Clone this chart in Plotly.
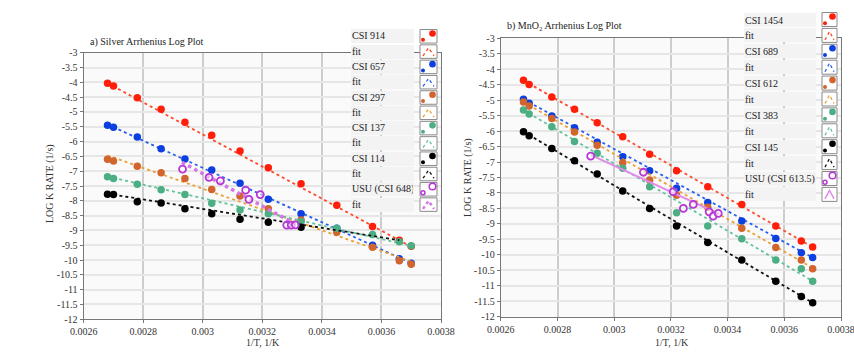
import plotly.graph_objects as go

# ---------------- data ----------------
X_T = [0.00268, 0.00270, 0.00278, 0.00286, 0.00294, 0.00303, 0.003125,
       0.00322, 0.00333, 0.00345, 0.00357, 0.00366, 0.00370]
X_FIT = [0.00268, 0.00370]

# a) Silver
AG_914 = [-4.03, -4.12, -4.52, -4.91, -5.35, -5.79, -6.32, -6.88, -7.42, -8.15, -8.87, -9.33, -9.53]
AG_657 = [-5.45, -5.52, -5.85, -6.24, -6.59, -6.96, -7.41, -7.95, -8.44, -8.93, -9.50, -9.96, -10.11]
AG_297 = [-6.60, -6.66, -6.83, -7.05, -7.25, -7.62, -7.84, -8.27, -8.65, -9.06, -9.57, -10.02, -10.14]
AG_137 = [-7.19, -7.25, -7.44, -7.63, -7.79, -8.08, -8.31, -8.44, -8.71, -8.93, -9.14, -9.38, -9.52]
AG_114 = [-7.78, -7.79, -8.03, -8.07, -8.27, -8.44, -8.62, -8.72, -8.89]
AG_FIT_914 = [-4.03, -9.55]
AG_FIT_657 = [-5.42, -10.10]
AG_FIT_297 = [-6.47, -10.05]
AG_FIT_137 = [-7.18, -9.52]
AG_FIT_114_X = [0.00268, 0.00366]
AG_FIT_114 = [-7.76, -9.33]
AG_USU_X = [0.002932, 0.003021, 0.003059, 0.003144, 0.003155, 0.003193, 0.003282, 0.003297, 0.003311]
AG_USU = [-6.93, -7.21, -7.33, -7.64, -7.95, -7.79, -8.82, -8.82, -8.81]
AG_USU_FIT_X = [0.00293, 0.00331]
AG_USU_FIT = [-6.70, -8.78]

# b) MnO2
MN_1454 = [-4.36, -4.49, -4.90, -5.29, -5.73, -6.18, -6.75, -7.28, -7.80, -8.37, -9.07, -9.55, -9.75]
MN_689 = [-4.97, -5.10, -5.51, -5.89, -6.36, -6.83, -7.28, -7.85, -8.31, -8.91, -9.47, -9.93, -10.09]
MN_612 = [-5.06, -5.19, -5.59, -6.03, -6.46, -7.02, -7.58, -8.07, -8.46, -9.14, -9.76, -10.17, -10.45]
MN_383 = [-5.32, -5.45, -5.86, -6.34, -6.72, -7.20, -7.80, -8.64, -9.07, -9.48, -10.17, -10.45, -10.85]
MN_145 = [-6.02, -6.15, -6.56, -6.96, -7.39, -7.94, -8.50, -9.07, -9.60, -10.17, -10.85, -11.35, -11.55]
MN_FIT_1454 = [-4.36, -9.75]
MN_FIT_689 = [-4.97, -10.09]
MN_FIT_612 = [-5.06, -10.42]
MN_FIT_383 = [-5.32, -10.85]
MN_FIT_145 = [-6.02, -11.55]
MN_USU_X = [0.002917, 0.003103, 0.003208, 0.003244, 0.003279, 0.003335, 0.003349, 0.003367]
MN_USU = [-6.81, -7.33, -7.96, -8.50, -8.37, -8.61, -8.75, -8.66]
MN_USU_FIT_X = [0.002917, 0.00337]
MN_USU_FIT = [-6.77, -8.68]

X_TICKS = [0.0026, 0.0028, 0.0030, 0.0032, 0.0034, 0.0036, 0.0038]
X_TICK_TEXT = ["0.0026", "0.0028", "0.003", "0.0032", "0.0034", "0.0036", "0.0038"]
Y_TICKS = [-3, -3.5, -4, -4.5, -5, -5.5, -6, -6.5, -7, -7.5, -8, -8.5, -9, -9.5,
           -10, -10.5, -11, -11.5, -12]
Y_TICK_TEXT = ["-3", "-3.5", "-4", "-4.5", "-5", "-5.5", "-6", "-6.5", "-7", "-7.5", "-8",
               "-8.5", "-9", "-9.5", "-10", "-10.5", "-11", "-11.5", "-12"]

AG_LABELS = ["CSI 914", "CSI 657", "CSI 297", "CSI 137", "CSI 114", "USU (CSI 648)"]
MN_LABELS = ["CSI 1454", "CSI 689", "CSI 612", "CSI 383", "CSI 145", "USU (CSI 613.5)"]

# ---------------- styles ----------------
W, H = 854, 352
FONT = "Liberation Serif"
FS = 10
MARK_COL = ["#ff1e0a", "#0c3fe0", "#d2642e", "#4caf84", "#000000", "#b636d6"]
FIT_COL = ["#ff4a2a", "#2a5ef0", "#eba035", "#62c29c", "#111111", "#d277e6"]
MN_USU_FIT_COL = "#e08ce8"


def px(x):
    return x / W


def py(y):
    return 1 - y / H


fig = go.Figure()


def add_series(xs, ys, name, col, ax, open_marker=False):
    fig.add_trace(go.Scatter(
        x=xs, y=ys, mode="markers", name=name, showlegend=False,
        xaxis=ax[0], yaxis=ax[1],
        marker=dict(size=7.5 if not open_marker else 7,
                    color=col if not open_marker else "rgba(255,255,255,0.5)",
                    symbol="circle",
                    line=dict(color=col, width=1.8 if open_marker else 0)),
    ))


def add_fit(xs, ys, col, ax, dash="dot", width=1.8):
    fig.add_trace(go.Scatter(
        x=xs, y=ys, mode="lines", name="fit", showlegend=False,
        xaxis=ax[0], yaxis=ax[1],
        line=dict(color=col, width=width, dash=dash),
    ))


A = ("x", "y")
B = ("x2", "y2")

ag_data = [(X_T, AG_914, X_FIT, AG_FIT_914), (X_T, AG_657, X_FIT, AG_FIT_657),
           (X_T, AG_297, X_FIT, AG_FIT_297), (X_T, AG_137, X_FIT, AG_FIT_137),
           (X_T[:len(AG_114)], AG_114, AG_FIT_114_X, AG_FIT_114)]
for i, (xs, ys, fx, fy) in enumerate(ag_data):
    add_fit(fx, fy, FIT_COL[i], A)
    add_series(xs, ys, AG_LABELS[i], MARK_COL[i], A)
add_fit(AG_USU_FIT_X, AG_USU_FIT, FIT_COL[5], A, dash="dot", width=3.5)
add_series(AG_USU_X, AG_USU, AG_LABELS[5], MARK_COL[5], A, open_marker=True)

mn_data = [(MN_1454, MN_FIT_1454), (MN_689, MN_FIT_689), (MN_612, MN_FIT_612),
           (MN_383, MN_FIT_383), (MN_145, MN_FIT_145)]
for i, (ys, fy) in enumerate(mn_data):
    add_fit(X_FIT, fy, FIT_COL[i], B)
    add_series(X_T, ys, MN_LABELS[i], MARK_COL[i], B)
add_fit(MN_USU_FIT_X, MN_USU_FIT, MN_USU_FIT_COL, B, dash="solid", width=2)
add_series(MN_USU_X, MN_USU, MN_LABELS[5], MARK_COL[5], B, open_marker=True)

# ---------------- axes ----------------
tickfont = dict(family=FONT, size=FS, color="#333333")


def xaxis(domain, anchor):
    return dict(domain=domain, anchor=anchor, range=[0.0026, 0.0038],
                tickvals=X_TICKS, ticktext=X_TICK_TEXT, tickfont=tickfont,
                showgrid=True, gridcolor="#cdcdcd", gridwidth=1.5,
                showline=True, linecolor="#777777", linewidth=1.3, mirror=True,
                ticks="outside", ticklen=3, tickcolor="#777777",
                ticklabeloverflow="allow",
                zeroline=False, fixedrange=True, automargin=False)


def yaxis(domain, anchor):
    return dict(domain=domain, anchor=anchor, range=[-12, -3],
                tickvals=Y_TICKS, ticktext=Y_TICK_TEXT, tickfont=tickfont,
                showgrid=True, gridcolor="#e6e6e6", gridwidth=1.5,
                showline=True, linecolor="#777777", linewidth=1.3, mirror=True,
                ticks="outside", ticklen=3, tickcolor="#777777",
                ticklabeloverflow="allow",
                zeroline=False, fixedrange=True, automargin=False)


LA = dict(x0=83.7, x1=441.0, ytop=52.7, ybot=319.3)
RB = dict(x0=500.8, x1=841.0, ytop=38.3, ybot=316.7)

fig.update_layout(
    width=W, height=H, autosize=False,
    margin=dict(l=0, r=0, t=0, b=0, pad=0),
    paper_bgcolor="white", plot_bgcolor="#fafafa",
    font=dict(family=FONT, size=FS, color="#333333"),
    xaxis=xaxis([px(LA["x0"]), px(LA["x1"])], "y"),
    yaxis=yaxis([py(LA["ybot"]), py(LA["ytop"])], "x"),
    xaxis2=xaxis([px(RB["x0"]), px(RB["x1"])], "y2"),
    yaxis2=yaxis([py(RB["ybot"]), py(RB["ytop"])], "x2"),
    showlegend=False,
)

annotations = []
shapes = []


def text_ann(x, y, text, xanchor="center", angle=0, color="#333333"):
    annotations.append(dict(x=px(x), y=py(y), xref="paper", yref="paper",
                            xanchor=xanchor, yanchor="middle", showarrow=False,
                            textangle=angle, text=text,
                            font=dict(family=FONT, size=FS, color=color)))


# titles
text_ann(88, 42, "a) Silver Arrhenius Log Plot", xanchor="left", color="#222222")
text_ann(505, 26, "b) MnO\u2082 Arrhenius Log Plot", xanchor="left", color="#222222")
# axis titles
text_ann(50, 184, "LOG K RATE (1/s)", angle=-90)
text_ann(468, 178, "LOG K RATE (1/s)", angle=-90)
text_ann(263, 342, "1/T, 1/K")
text_ann(671.5, 342, "1/T, 1/K")


# ---------------- custom legends ----------------
def build_legend(labels, mark_cols, fit_cols, lx0, lx1, sx0, sx1, yc0, step, h, usu_solid):
    rows = []
    for i, lab in enumerate(labels):
        last = i == len(labels) - 1
        rows.append((lab, "data", mark_cols[i], last))
        rows.append(("fit", "fit", fit_cols[i], last))
    for j, (lab, kind, col, is_usu) in enumerate(rows):
        yc = yc0 + j * step
        annotations.append(dict(
            x=px(lx0), y=py(yc), xref="paper", yref="paper", xanchor="left",
            yanchor="middle", showarrow=False, text=lab, align="left",
            width=lx1 - lx0 - 4, height=h - 2, borderpad=1,
            bgcolor="#f3f3f3", bordercolor="#ffffff", borderwidth=0,
            font=dict(family=FONT, size=FS, color="#222222")))
        shapes.append(dict(type="rect", xref="paper", yref="paper",
                           x0=px(sx0), x1=px(sx1), y0=py(yc + h / 2), y1=py(yc - h / 2),
                           line=dict(color="#8a8a8a", width=1), fillcolor="white",
                           layer="above"))
        if kind == "data":
            for (cx, cy, r) in [(sx1 - 4.5, yc - h / 2 + 4, 3.3), (sx0 + 3, yc + h / 2 - 3.2, 2.0)]:
                shapes.append(dict(type="circle", xref="paper", yref="paper",
                                   x0=px(cx - r), x1=px(cx + r), y0=py(cy + r), y1=py(cy - r),
                                   fillcolor="white" if is_usu else col,
                                   line=dict(color=col, width=1.5 if is_usu else 0),
                                   layer="above"))
        else:
            xa, xm, xb = sx0 + 3, (sx0 + sx1) / 2, sx1 - 3
            ya, ym = yc + h / 2 - 2.5, yc - h / 2 + 3
            path = "M {:.5f},{:.5f} L {:.5f},{:.5f} L {:.5f},{:.5f}".format(
                px(xa), py(ya), px(xm), py(ym), px(xb), py(ya))
            if is_usu and usu_solid:
                ln = dict(color=col, width=1.5)
            elif is_usu:
                ln = dict(color=col, width=2.5, dash="dot")
            else:
                ln = dict(color=col, width=1.3, dash="dot")
            shapes.append(dict(type="path", xref="paper", yref="paper", path=path,
                               line=ln, layer="above"))


build_legend(AG_LABELS, MARK_COL, FIT_COL, 351, 416, 420, 437, 36.3, 15.3, 13.5, False)
build_legend(MN_LABELS, MARK_COL, FIT_COL[:5] + [MN_USU_FIT_COL], 744, 818, 822, 837,
             19.5, 15.9, 14, True)

fig.update_layout(annotations=annotations, shapes=shapes)

fig.write_html("out.html", include_plotlyjs=True, full_html=True)
